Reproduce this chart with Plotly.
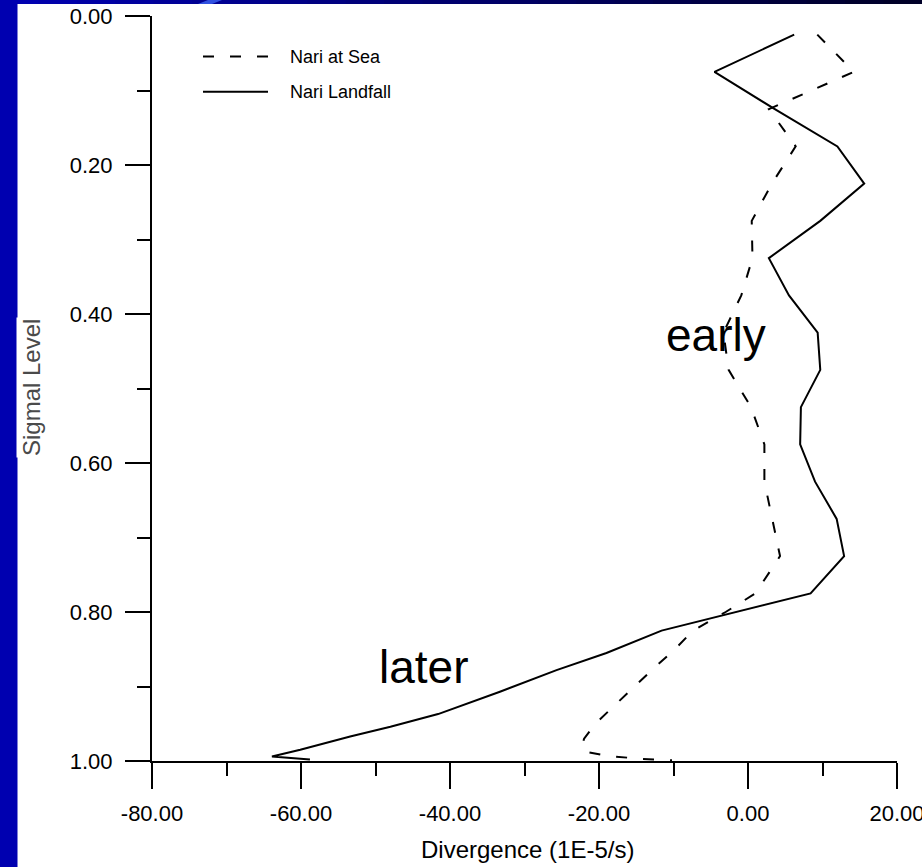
import plotly.graph_objects as go

# Divergence profiles (1E-5/s) against sigma level
sigma_sea = [0.025, 0.075, 0.125, 0.175, 0.225, 0.275, 0.325, 0.375, 0.425, 0.475,
             0.525, 0.575, 0.625, 0.675, 0.725, 0.775, 0.800, 0.825, 0.850, 0.875,
             0.900, 0.925, 0.950, 0.970, 0.980, 0.988, 0.993, 0.997, 0.999]
div_sea = [9.3, 14.2, 2.8, 6.4, 3.2, 0.5, 0.6, -0.9, -3.3, -2.6,
           0.4, 2.2, 2.2, 3.2, 4.3, 1.0, -3.0, -7.4, -9.8, -12.6,
           -15.2, -17.9, -20.5, -22.0, -22.3, -21.6, -19.0, -14.5, -10.2]

sigma_land = [0.025, 0.075, 0.125, 0.175, 0.225, 0.275, 0.325, 0.375, 0.425, 0.475,
              0.525, 0.575, 0.625, 0.675, 0.725, 0.775, 0.825, 0.855, 0.878, 0.907,
              0.937, 0.954, 0.967, 0.985, 0.994, 0.998]
div_land = [6.2, -4.5, 3.6, 12.0, 15.6, 9.7, 2.8, 5.5, 9.35, 9.7,
            7.1, 7.0, 9.0, 11.9, 12.9, 8.4, -11.6, -19.0, -25.7, -33.3,
            -41.6, -48.0, -53.4, -60.1, -63.9, -58.8]

series_names = ["Nari at Sea", "Nari Landfall"]
x_ticks = [-80, -60, -40, -20, 0, 20]
y_ticks = [0.0, 0.2, 0.4, 0.6, 0.8, 1.0]

W, H = 922, 867
ML, MR, MT, MB = 152, 25, 16, 106
PW, PH = W - ML - MR, H - MT - MB
FONT = "Arial, Liberation Sans, sans-serif"
DASH = "11px,16px"


def px(xp):
    return (xp - ML) / PW


def py(yp):
    return 1 - (yp - MT) / PH


fig = go.Figure()
fig.add_trace(go.Scatter(x=div_sea, y=sigma_sea, mode="lines", name=series_names[0],
                         line=dict(color="black", width=2, dash=DASH), showlegend=False))
fig.add_trace(go.Scatter(x=div_land, y=sigma_land, mode="lines", name=series_names[1],
                         line=dict(color="black", width=2), showlegend=False))

shapes = []
# slide frame: blue strip on the left, darkening band along the top
shapes.append(dict(type="rect", xref="paper", yref="paper", x0=px(0), x1=px(17.5),
                   y0=py(H), y1=py(0), fillcolor="#0000b0", line_width=0, layer="below"))
n_seg = 24
for i in range(n_seg):
    t = i / (n_seg - 1)
    b = int(176 - t * (176 - 40))
    shapes.append(dict(type="rect", xref="paper", yref="paper",
                       x0=px(W * i / n_seg), x1=px(W * (i + 1) / n_seg + 1),
                       y0=py(4), y1=py(0), fillcolor=f"rgb(0,0,{b})",
                       line_width=0, layer="below"))
shapes.append(dict(type="path", xref="paper", yref="paper",
                   path=f"M{px(198)},{py(4)} L{px(212)},{py(4)} L{px(222)},{py(0)} L{px(208)},{py(0)} Z",
                   fillcolor="#3050e0", line_width=0, layer="below"))

# legend keys
leg_rows = [(56.5, DASH), (91.7, "solid")]
for yp, dash in leg_rows:
    shapes.append(dict(type="line", xref="paper", yref="paper", x0=px(203), x1=px(268),
                       y0=py(yp), y1=py(yp), line=dict(color="black", width=2, dash=dash)))

annotations = []
for (yp, _), name in zip(leg_rows, series_names):
    annotations.append(dict(text=name, xref="paper", yref="paper", x=px(288), y=py(yp),
                            xanchor="left", yanchor="middle", showarrow=False,
                            font=dict(family=FONT, size=18, color="black")))

annotations.append(dict(text="early", x=-4.3, y=0.428, xref="x", yref="y", showarrow=False,
                        font=dict(family=FONT, size=46, color="black")))
annotations.append(dict(text="later", x=-43.6, y=0.874, xref="x", yref="y", showarrow=False,
                        font=dict(family=FONT, size=46, color="black")))

annotations.append(dict(text="Divergence (1E-5/s)", xref="paper", yref="paper",
                        x=px(527.5), y=py(849), showarrow=False, xanchor="center", yanchor="middle",
                        font=dict(family=FONT, size=24, color="black")))
annotations.append(dict(text="Sigmal Level", xref="paper", yref="paper",
                        x=px(31), y=py(388), showarrow=False, textangle=-90,
                        xanchor="center", yanchor="middle", bgcolor="white",
                        font=dict(family=FONT, size=24, color="#4a4a4a")))

axis_common = dict(showline=True, linecolor="black", linewidth=2, ticks="outside",
                   tickwidth=2, tickcolor="black", showgrid=False, zeroline=False,
                   tickfont=dict(family=FONT, size=22, color="black"), automargin=False,
                   ticklabeloverflow="allow")

fig.update_layout(
    width=W, height=H,
    margin=dict(l=ML, r=MR, t=MT, b=MB, pad=0),
    paper_bgcolor="white", plot_bgcolor="white",
    shapes=shapes, annotations=annotations,
    xaxis=dict(range=[-80, 20], tickvals=x_ticks, ticktext=[f"{v:.2f}" for v in x_ticks],
               ticklen=26, minor=dict(dtick=10, tick0=0, ticks="outside", ticklen=13,
                                      tickwidth=2, tickcolor="black"),
               ticklabelstandoff=6, **axis_common),
    yaxis=dict(range=[1, 0], tickvals=y_ticks, ticktext=[f"{v:.2f}" for v in y_ticks],
               ticklen=25, minor=dict(dtick=0.1, tick0=0, ticks="outside", ticklen=13,
                                      tickwidth=2, tickcolor="black"),
               ticklabelstandoff=8, **axis_common),
)

fig.write_html("out.html")
